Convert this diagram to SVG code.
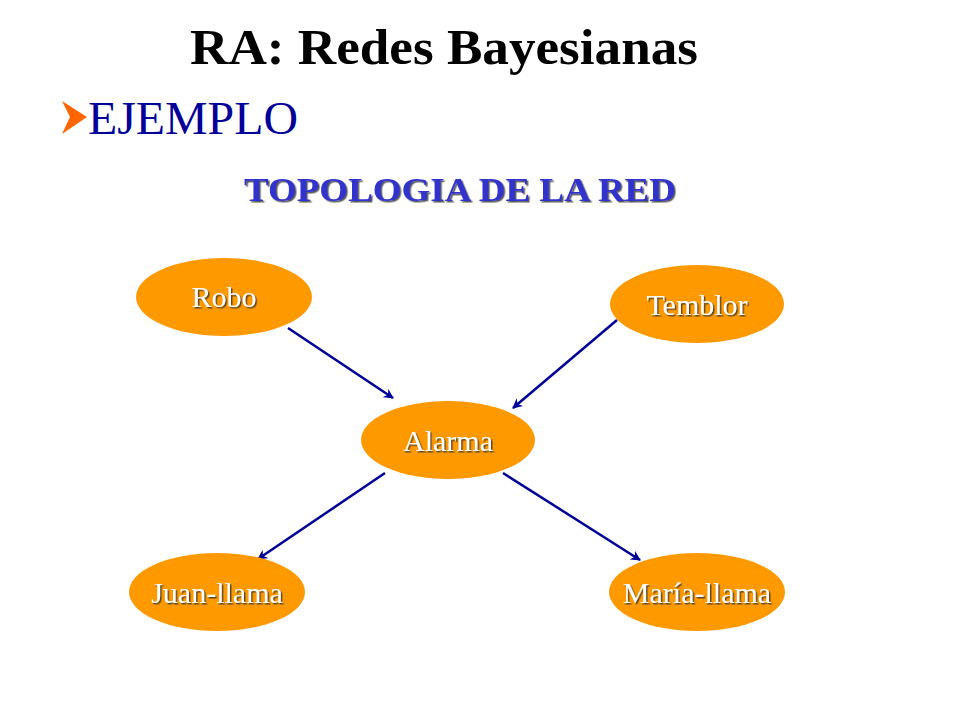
<svg xmlns="http://www.w3.org/2000/svg" width="960" height="720" viewBox="0 0 960 720">
<defs>
<marker id="ah" markerWidth="10" markerHeight="10" refX="9" refY="5" orient="auto" markerUnits="userSpaceOnUse"><path d="M0,0 L10,5 L0,10 L3,5 Z" fill="#000099"/></marker>
<filter id="sh" x="-10%" y="-10%" width="130%" height="140%"><feDropShadow dx="1.5" dy="1.5" stdDeviation="0.6" flood-color="#333" flood-opacity="0.8"/></filter>
</defs>
<style>
.n{fill:#ff9900}
.t{font-family:"Liberation Serif",serif;font-size:30px;fill:#fff;text-anchor:middle;filter:url(#sh)}
.c{stroke:#000099;stroke-width:2.5;fill:none;marker-end:url(#ah)}
</style>
<rect width="960" height="720" fill="#fff"/>
<text x="190" y="64" font-family="Liberation Serif,serif" font-size="50" font-weight="bold" textLength="508" lengthAdjust="spacingAndGlyphs" fill="#000">RA: Redes Bayesianas</text>
<path d="M62,101 L87,117 L62,134 L70,117 Z" fill="#ff6600"/>
<text x="88" y="134" font-family="Liberation Serif,serif" font-size="46" textLength="210" lengthAdjust="spacingAndGlyphs" fill="#000099">EJEMPLO</text>
<text x="244" y="201" font-family="Liberation Serif,serif" font-size="34" font-weight="bold" textLength="432" lengthAdjust="spacingAndGlyphs" fill="#3333cc" filter="url(#sh)">TOPOLOGIA DE LA RED</text>
<g id="connectors">
<path class="c" d="M288,328 L393,398"/>
<path class="c" d="M617,320 L513,408"/>
<path class="c" d="M385,473 L258,559"/>
<path class="c" d="M503,473 L640,560"/>
</g>
<g id="robo"><ellipse class="n" cx="224" cy="297" rx="88" ry="39"/><text class="t" x="224" y="307">Robo</text></g>
<g id="temblor"><ellipse class="n" cx="697" cy="304" rx="87" ry="39"/><text class="t" x="697" y="315">Temblor</text></g>
<g id="alarma"><ellipse class="n" cx="448" cy="440" rx="87" ry="39"/><text class="t" x="448" y="451">Alarma</text></g>
<g id="juan"><ellipse class="n" cx="217" cy="592" rx="88" ry="39"/><text class="t" x="217" y="603">Juan-llama</text></g>
<g id="maria"><ellipse class="n" cx="697" cy="592" rx="88" ry="39"/><text class="t" x="697" y="603">María-llama</text></g>
</svg>
